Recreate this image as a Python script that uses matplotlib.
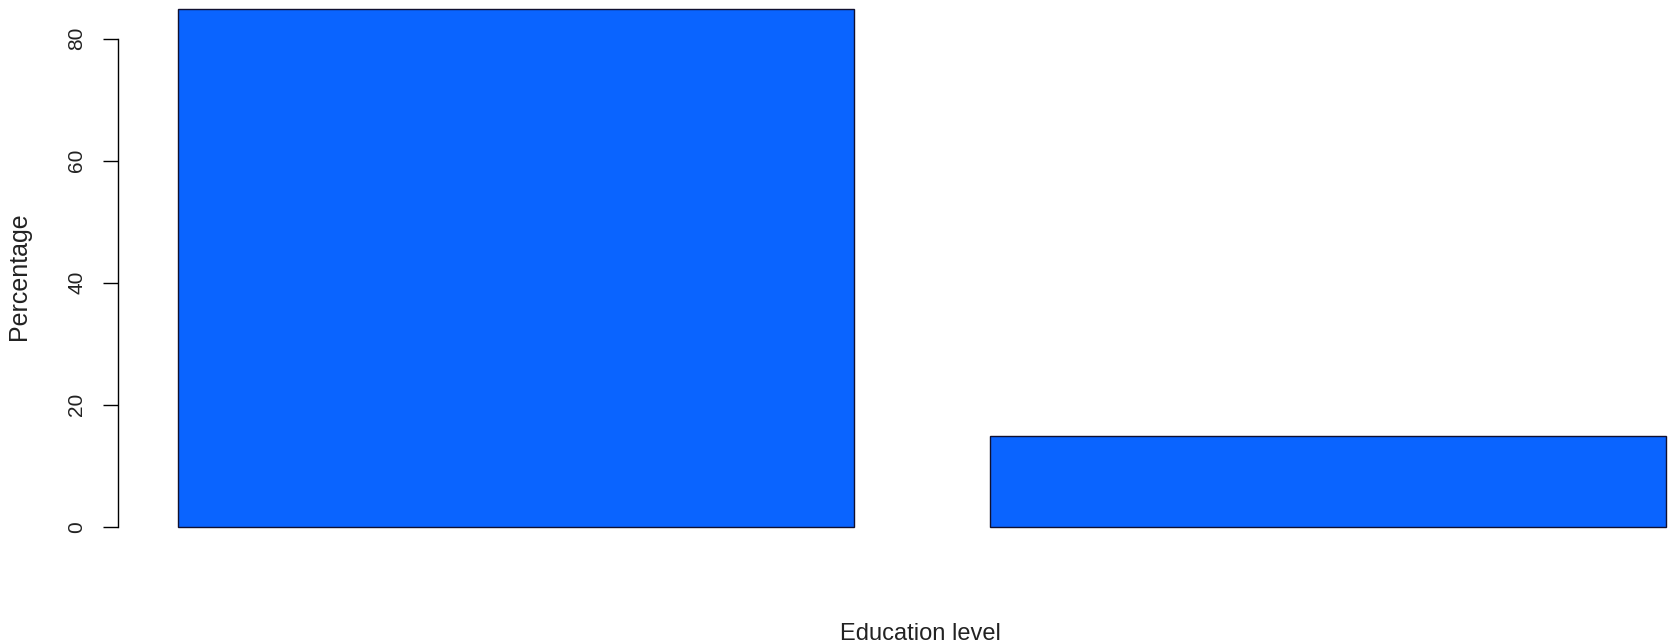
import numpy as np
import matplotlib
matplotlib.use("Agg")
import matplotlib.pyplot as plt

plt.rcParams['font.family'] = ['Liberation Sans', 'DejaVu Sans']

# data
categories = ["Lower", "Higher"]
percentages = [84.8, 14.8]
y_ticks = [0, 20, 40, 60, 80]

W, H, DPI = 1673, 644, 100
fig = plt.figure(figsize=(W / DPI, H / DPI), dpi=DPI)

# R barplot style: width 1, space 0.2
bar_x = 0.2 + np.arange(len(categories)) * 1.2 + 0.5

ax = fig.add_axes([118 / W, (H - 547.5) / H, (W - 118) / W, 547.5 / H])
ax.bar(bar_x, percentages, width=1.0, color="#0a64ff",
       edgecolor="#101030", linewidth=1.0)
ax.set_xlim(0.112, 2.41)
ax.set_ylim(-3.41, 86.31)

for s in ["top", "right", "bottom"]:
    ax.spines[s].set_visible(False)
ax.spines["left"].set_bounds(0, 80)
ax.spines["left"].set_linewidth(1.0)

ax.set_xticks([])
ax.set_yticks(y_ticks)
ax.set_yticklabels([str(t) for t in y_ticks], rotation=90, va="center",
                   fontsize=15, color="#222222")
ax.tick_params(axis="y", length=11, width=1.0, pad=12)

fig.text(920 / W, 1 - 640 / H, "Education level", ha="center",
         va="baseline", fontsize=17, color="#222222")
fig.text(19 / W, 1 - 276 / H, "Percentage", ha="center", va="center",
         rotation=90, fontsize=18, color="#222222")

fig.savefig("out.png", dpi=DPI)
